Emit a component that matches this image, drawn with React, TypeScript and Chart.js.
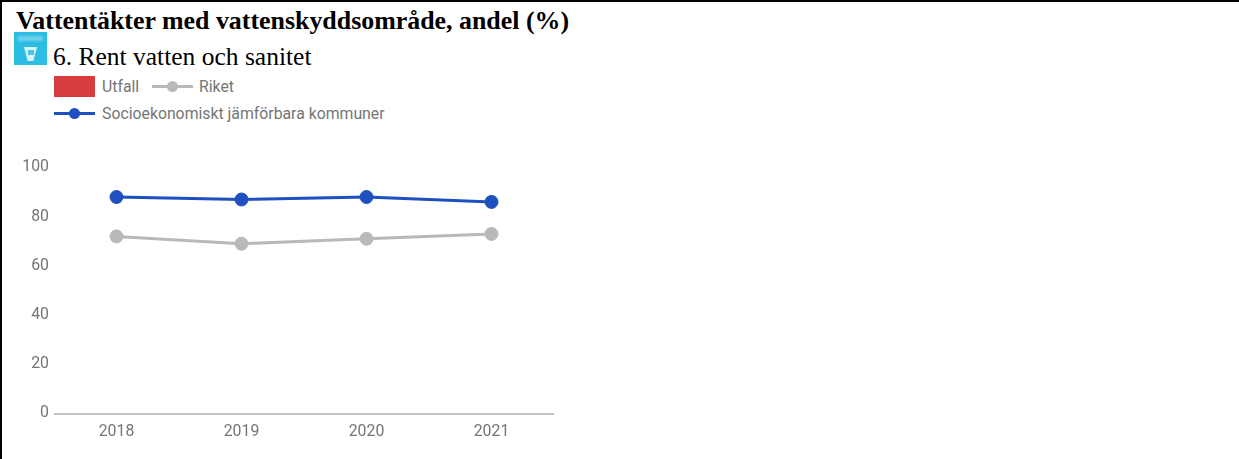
import React, { useEffect, useRef } from "react";
import { Chart, registerables } from "chart.js";

Chart.register(...registerables);

const titleText = "Vattentäkter med vattenskyddsområde, andel (%)";
const goalText = "6. Rent vatten och sanitet";
const years = ["2018", "2019", "2020", "2021"];
const utfall: (number | null)[] = [null, null, null, null];
const riket = [72, 69, 71, 73];
const jamforbara = [88, 87, 88, 86];
const yTicks = [0, 20, 40, 60, 80, 100];
const seriesNames = ["Utfall", "Riket", "Socioekonomiskt jämförbara kommuner"];

const RED = "#d73c3f";
const GRAY = "#b9b9b9";
const BLUE = "#1f50c0";
const TICK = "#757575";
const FONT = "Roboto, sans-serif";
const SERIF = "'Liberation Serif', serif";
const TEXT_SIZE = 15.8;

const abs = (left: number, top: number, extra: React.CSSProperties = {}): React.CSSProperties => ({
  position: "absolute",
  left,
  top,
  ...extra,
});

function LineKey({ left, top, color }: { left: number; top: number; color: string }) {
  return (
    <div style={abs(left, top, { width: 41, height: 12 })}>
      <div style={abs(0, 4.5, { width: 41, height: 3, background: color })} />
      <div style={abs(15, 0.5, { width: 11, height: 11, borderRadius: "50%", background: color })} />
    </div>
  );
}

const legendText = (left: number, top: number): React.CSSProperties =>
  abs(left, top, { font: `${TEXT_SIZE}px ${FONT}`, color: TICK, whiteSpace: "nowrap", lineHeight: "18px" });

export default function App() {
  const ref = useRef<HTMLCanvasElement | null>(null);

  useEffect(() => {
    document.body.style.margin = "0";
    document.body.style.overflow = "hidden";
    const chart = new Chart(ref.current as HTMLCanvasElement, {
      type: "line",
      data: {
        labels: years,
        datasets: [
          { type: "bar", label: seriesNames[0], data: utfall, backgroundColor: RED },
          {
            label: seriesNames[1],
            data: riket,
            borderColor: GRAY,
            backgroundColor: GRAY,
            borderWidth: 3,
            pointRadius: 6.5,
            pointBorderWidth: 1,
            pointHoverRadius: 6.5,
            tension: 0,
          },
          {
            label: seriesNames[2],
            data: jamforbara,
            borderColor: BLUE,
            backgroundColor: BLUE,
            borderWidth: 3,
            pointRadius: 6.5,
            pointBorderWidth: 1,
            pointHoverRadius: 6.5,
            tension: 0,
          },
        ],
      } as any,
      options: {
        responsive: false,
        animation: false,
        layout: { padding: { top: 26.5, right: 46, left: 0, bottom: 0 } },
        plugins: { legend: { display: false }, title: { display: false }, tooltip: { enabled: false } },
        scales: {
          x: {
            type: "category",
            offset: true,
            grid: { display: false },
            border: { display: false },
            ticks: { color: TICK, font: { family: FONT, size: TEXT_SIZE }, padding: 1, maxRotation: 0 },
            afterFit: (s: any) => {
              s.height = 45.5;
            },
          },
          y: {
            min: 0,
            max: 100,
            afterBuildTicks: (s: any) => {
              s.ticks = yTicks.map((value) => ({ value }));
            },
            grid: {
              drawTicks: false,
              lineWidth: (c: any) => (c.tick && c.tick.value === 0 ? 2 : 0),
              color: "#c4c4c4",
            },
            border: { display: false },
            ticks: { color: TICK, font: { family: FONT, size: TEXT_SIZE }, padding: 5 },
            afterFit: (s: any) => {
              s.width = 54;
            },
          },
        },
      },
    });
    return () => chart.destroy();
  }, []);

  return (
    <div style={abs(0, 0, { width: 1239, height: 459, background: "#fff", overflow: "hidden" })}>
      <div style={abs(0, 0, { width: 1239, height: 2, background: "#000" })} />
      <div style={abs(0, 0, { width: 2, height: 459, background: "#000" })} />
      <div style={abs(16, 7, { font: `bold 25.9px ${SERIF}`, color: "#000", whiteSpace: "nowrap", lineHeight: "28px" })}>
        {titleText}
      </div>
      <div style={abs(14, 32, { width: 33, height: 33, background: "#2cbde3" })}>
        <div style={abs(4, 4, { width: 25, height: 5, background: "#6fd2ec", filter: "blur(1px)" })} />
        <div
          style={abs(10, 15, {
            width: 13,
            height: 14,
            background: "#d8f3fa",
            filter: "blur(0.5px)",
            clipPath: "polygon(0 0, 100% 0, 72% 100%, 28% 100%)",
          })}
        />
        <div style={abs(13.5, 18, { width: 6, height: 5, background: "#4cc6e6" })} />
      </div>
      <div style={abs(53, 42, { font: `25.5px ${SERIF}`, color: "#000", whiteSpace: "nowrap", lineHeight: "30px" })}>
        {goalText}
      </div>
      <div style={abs(54, 76, { width: 41, height: 21, background: RED })} />
      <div style={legendText(102, 78)}>{seriesNames[0]}</div>
      <LineKey left={152} top={80} color={GRAY} />
      <div style={legendText(199, 78)}>{seriesNames[1]}</div>
      <LineKey left={54} top={107} color={BLUE} />
      <div style={legendText(102, 104.5)}>{seriesNames[2]}</div>
      <canvas ref={ref} width={600} height={318} style={abs(0, 141, { display: "block" })} />
    </div>
  );
}
